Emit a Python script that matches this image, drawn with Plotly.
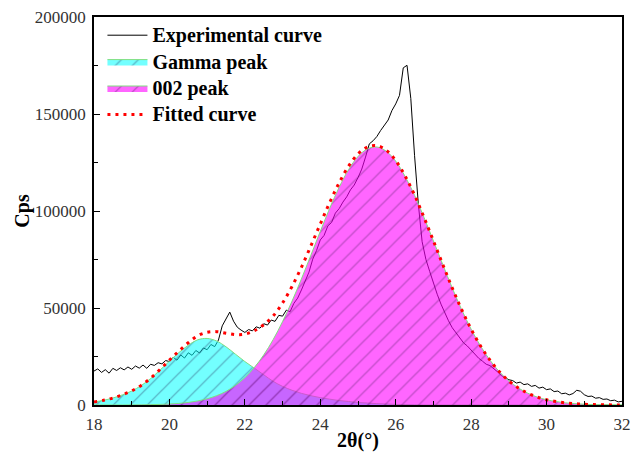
import numpy as np
import plotly.graph_objects as go

# experimental scan, 0.1 deg steps from 18 to 32 (values in cps)
two_theta = np.round(np.linspace(18, 32, 141), 2)
cps_exp = [
    17500, 18600, 16800, 18200, 16400, 18900, 17800, 19200, 18100, 19600,
    18400, 20100, 19000, 20600, 18900, 21000, 20400, 21800, 21200, 22900,
    22400, 24600, 23100, 25800, 24200, 26900, 25600, 28100, 26800, 29400,
    28500, 31200, 30100, 33500, 40800, 44600, 47900, 43200, 40100, 38600,
    37400, 38900, 38200, 40300, 39600, 41900, 41200, 43800, 43100, 46200,
    45800, 48900, 48100, 52400, 55100, 59300, 63800, 68500, 75200, 79600,
    85100, 87400, 92300, 94100, 98900, 101200, 104600, 107300, 110900, 113400,
    117200, 121600, 127800, 134600, 136200, 138400, 141500, 144300, 146900, 151800,
    155200, 159600, 173800, 175100, 158000, 128500, 103600, 84200, 75100, 68900,
    62800, 57100, 52000, 47600, 43400, 39800, 37100, 34600, 32000, 30400,
    28300, 26200, 24100, 22600, 21000, 20300, 18800, 17100, 15200, 14300,
    13000, 12600, 11300, 11800, 10500, 10900, 9600, 10100, 8700, 9200,
    7900, 8300, 6900, 7200, 5800, 6100, 5200, 5900, 7600, 7100,
    5300, 4400, 4600, 3500, 3800, 2900, 3100, 2200, 2500, 1600,
    1900,
]

# fitted components, 0.25 deg steps
fit_theta = np.round(np.linspace(18, 32, 57), 2)
gamma_peak = [
    1600, 2400, 3600, 5200, 7200, 10000, 13600, 18000, 22600, 27000,
    30800, 33600, 34300, 33000, 30000, 26200, 22400, 19000, 15600, 12200,
    9600, 7600, 6000, 4800, 3800, 3000, 2300, 1800, 1300, 1000,
    700, 500, 300, 200, 100, 0, 0, 0, 0, 0,
    0, 0, 0, 0, 0, 0, 0, 0, 0, 0,
    0, 0, 0, 0, 0, 0, 0,
]
peak_002 = [
    0, 0, 0, 0, 50, 100, 200, 300, 500, 800,
    1300, 2100, 3200, 4800, 7000, 10100, 14100, 19300, 25800, 33700,
    43000, 53500, 65000, 77200, 89500, 101400, 112200, 121300, 128100, 132000,
    133000, 130800, 125700, 117800, 108100, 96700, 84600, 72300, 60300, 49100,
    39100, 30400, 23100, 17100, 12400, 8800, 6100, 4100, 2700, 1800,
    1100, 700, 400, 200, 100, 50, 0,
]
fitted = [
    1600, 2400, 3600, 5200, 7300, 10100, 13800, 18300, 23100, 27800,
    32100, 35700, 37500, 37800, 37000, 36300, 36500, 38300, 41400, 45900,
    52600, 61100, 71000, 82000, 93300, 104400, 114500, 123100, 129400, 133000,
    133700, 131300, 126000, 118000, 108200, 96700, 84600, 72300, 60300, 49100,
    39100, 30400, 23100, 17100, 12400, 8800, 6100, 4100, 2700, 1800,
    1100, 700, 400, 200, 100, 50, 0,
]

serif = "Liberation Serif"
title_font = dict(family=serif, size=20, color="black", weight="bold")


def big(label):
    # legend rows stay compact while the text itself is drawn larger
    return '<span style="font-size:20px">' + label + "</span>"


fig = go.Figure()
fig.add_scatter(x=two_theta, y=cps_exp, mode="lines", name=big("Experimental curve"),
                line=dict(color="black", width=1))
fig.add_scatter(x=fit_theta, y=gamma_peak, mode="lines", name=big("Gamma peak"),
                line=dict(color="#7fdf7f", width=1, shape="spline"),
                fill="tozeroy", fillcolor="rgba(0,255,255,0.55)",
                fillpattern=dict(shape="/", size=12, solidity=0.1,
                                 fgcolor="rgba(30,30,80,0.75)",
                                 bgcolor="rgba(0,255,255,0.55)"))
fig.add_scatter(x=fit_theta, y=peak_002, mode="lines", name=big("002 peak"),
                line=dict(color="#7fdf7f", width=1, shape="spline"),
                fill="tozeroy", fillcolor="rgba(255,0,255,0.6)",
                fillpattern=dict(shape="/", size=12, solidity=0.1,
                                 fgcolor="rgba(60,20,80,0.75)",
                                 bgcolor="rgba(255,0,255,0.6)"))
fig.add_scatter(x=fit_theta, y=fitted, mode="lines", name=big("Fitted curve"),
                line=dict(color="red", width=3, dash="3px,5px", shape="spline"))

axis_common = dict(showline=True, linecolor="black", linewidth=1.5, mirror=True,
                   showgrid=False, zeroline=False, ticks="inside", ticklen=6,
                   automargin=False, ticklabelstandoff=3,
                   tickcolor="black", tickfont=dict(family=serif, size=17, color="#333"))

fig.update_xaxes(range=[18, 32], dtick=2, tick0=18,
                 minor=dict(ticks="inside", dtick=1, ticklen=4, tickcolor="black"),
                 title=dict(text="2θ(°)", font=title_font, standoff=0),
                 **axis_common)
fig.update_yaxes(range=[0, 200000], dtick=50000, tickformat="d",
                 minor=dict(ticks="inside", dtick=25000, ticklen=4, tickcolor="black"),
                 **axis_common)

# y title as an annotation so it sits where the original puts it
fig.add_annotation(text="Cps", xref="paper", yref="paper", x=-0.137, y=0.5,
                   xanchor="center", yanchor="middle",
                   textangle=-90, showarrow=False, font=title_font)

fig.update_layout(
    width=633, height=458,
    margin=dict(l=94, r=11, t=17, b=53),
    plot_bgcolor="white", paper_bgcolor="white",
    legend=dict(x=0.016, y=1.0, xanchor="left", yanchor="top",
                bgcolor="rgba(0,0,0,0)", itemwidth=40,
                font=dict(family=serif, size=18, color="black", weight="bold")),
)

# drop the browser's default 8px body margin so the figure fills the window
fig.write_html("out.html", config={"displayModeBar": False},
               post_script="document.body.style.margin = '0';")
